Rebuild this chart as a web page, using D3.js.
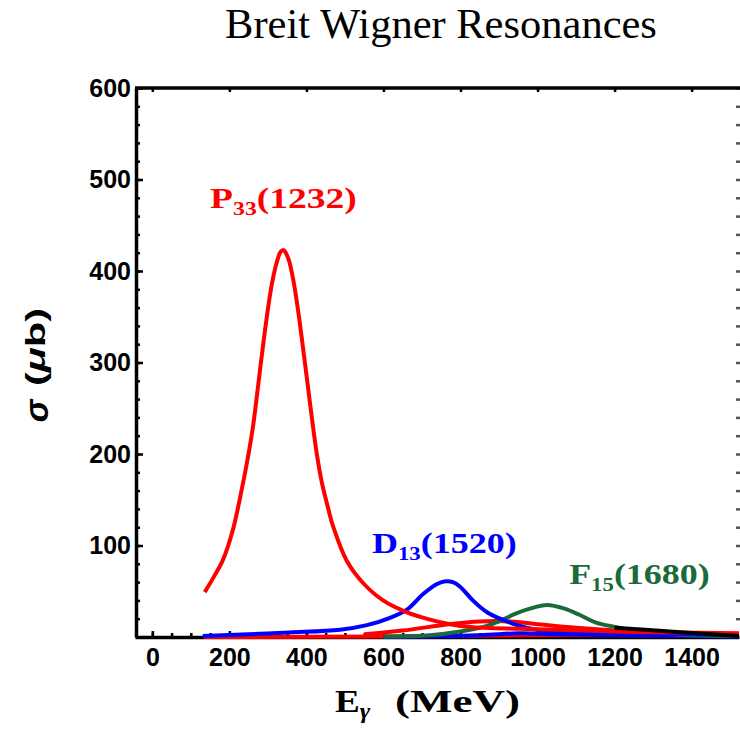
<!DOCTYPE html>
<html>
<head>
<meta charset="utf-8">
<title>Breit Wigner Resonances</title>
<script src="https://cdn.jsdelivr.net/npm/d3@7"></script>
<style>
  body { margin: 0; background: #fff; }
  svg { display: block; }
</style>
</head>
<body>
<svg width="740" height="741" id="mainSvg"></svg>
<script>
// photon energy (MeV) vs cross section (microbarn)
const p33Points = [[136,49],[160,66],[183,84],[209,117],[232,161],[248,196],[262,232],[279,290],[295,343],[310,385],[322,408],[333,421],[340,423],
  [345,421],[355,411],[366,390],[378,358],[390,320],[402,280],[414,240],[427,200],[440,169],[455,143],[470,120],[505,83],[547,59],[599,40],[661,27],[721,19],[773,14],[825,11],[950,9],[1058,8],[1200,6],[1350,5],[1523,4]];
const d13Points = [[131,1],[250,3],[357,5],[487,8],[557,13],[617,21],[661,30],[703,47],[739,58],[762,61],[780,60],[799,55],[832,40],[869,27],[903,20],[947,13],[999,8],[1100,6],[1250,4],[1400,3],[1523,2]];
const f15Points = [[600,0.5],[720,2],[800,6],[860,11],[900,17],[940,25],[980,31],[1025,35],[1070,31],[1110,24],[1150,16],[1200,11],[1266,6],[1370,2.5],[1523,1]];
const redExtraPoints = [[550,3],[650,7],[770,14],[850,17],[930,17],[1000,14],[1100,10],[1250,6],[1400,4],[1523,3]];
const redBasePoints = [[134,0],[600,0.5],[1000,2],[1300,2],[1523,1]];
const blueExtraPoints = [[600,0],[850,2],[950,4],[1050,3],[1200,2],[1523,0.5]];
const blackPoints = [[1200,10],[1280,8],[1380,5],[1523,1]];

const xTicks = [0, 200, 400, 600, 800, 1000, 1200, 1400];
const yTicks = [100, 200, 300, 400, 500, 600];

const labels = [
  { name: "P", sub: "33", mass: "(1232)", color: "#ff0000", E: 150, s: 469, sx: 1.25 },
  { name: "D", sub: "13", mass: "(1520)", color: "#0000ff", E: 570, s: 92, sx: 1.2 },
  { name: "F", sub: "15", mass: "(1680)", color: "#1b6b3a", E: 1082, s: 58, sx: 1.2 }
];

const svg = d3.select("#mainSvg");
const x = d3.scaleLinear().domain([-45, 1523]).range([135, 739]);
const y = d3.scaleLinear().domain([0, 600]).range([637, 88]);

svg.append("text")
  .attr("x", 441).attr("y", 38)
  .attr("text-anchor", "middle")
  .style("font-family", "'Liberation Serif', serif")
  .style("font-size", "42.5px")
  .text("Breit Wigner Resonances");

svg.append("defs").append("clipPath").attr("id", "plotClip")
  .append("rect").attr("x", 135).attr("y", 86).attr("width", 605).attr("height", 555);

// axes
const tickFont = "'Liberation Sans', Arial, sans-serif";
const xAxis = svg.append("g").attr("transform", "translate(0,637)")
  .call(d3.axisBottom(x).tickValues(xTicks).tickSize(-6).tickSizeOuter(0).tickPadding(11).tickFormat(d3.format("d")));
svg.append("g").attr("transform", "translate(0,637)")
  .call(d3.axisBottom(x).tickValues(d3.range(0, 1501, 50)).tickSize(-4).tickFormat(""))
  .call(g => g.select(".domain").remove());
const yAxis = svg.append("g").attr("transform", "translate(136,0)")
  .call(d3.axisLeft(y).tickValues(yTicks).tickSize(-7).tickSizeOuter(0).tickPadding(5));
svg.append("g").attr("transform", "translate(136,0)")
  .call(d3.axisLeft(y).tickValues(d3.range(0, 601, 20)).tickSize(-4).tickFormat(""))
  .call(g => g.select(".domain").remove());
svg.append("g").attr("transform", "translate(0,88)")
  .call(d3.axisTop(x).tickValues(xTicks).tickSize(-4).tickFormat(""))
  .call(g => g.select(".domain").remove());
svg.append("g").attr("transform", "translate(740,0)")
  .call(d3.axisRight(y).tickValues(d3.range(20, 601, 20)).tickSize(-4).tickFormat(""))
  .call(g => g.select(".domain").remove())
  .call(g => g.selectAll("line").attr("stroke", "#555").attr("stroke-width", 2.5));

[xAxis, yAxis].forEach(a => {
  a.select(".domain").attr("stroke", "#000").attr("stroke-width", 3.5);
  a.selectAll("text").style("font-family", tickFont).style("font-size", "25px")
    .style("font-weight", "bold").attr("fill", "#000");
});
svg.selectAll(".tick line").attr("stroke-width", function() { return d3.select(this).attr("stroke-width") || 2.5; });

svg.append("line").attr("x1", x.range()[0]).attr("x2", 740)
  .attr("y1", y(600)).attr("y2", y(600)).attr("stroke", "#000").attr("stroke-width", 3.5);

// curves
const line = d3.line().x(d => x(d[0])).y(d => y(d[1])).curve(d3.curveCatmullRom.alpha(0.5));
const curves = [
  { pts: redBasePoints, color: "#ff0000" },
  { pts: blueExtraPoints, color: "#0000ff" },
  { pts: redExtraPoints, color: "#ff0000" },
  { pts: f15Points, color: "#1b6b3a" },
  { pts: d13Points, color: "#0000ff" },
  { pts: p33Points, color: "#ff0000" },
  { pts: blackPoints, color: "#000000" }
];
const plot = svg.append("g").attr("clip-path", "url(#plotClip)");
plot.selectAll("path.curve").data(curves).join("path")
  .attr("class", "curve")
  .attr("d", d => line(d.pts))
  .attr("fill", "none")
  .attr("stroke", d => d.color)
  .attr("stroke-width", 4)
  .attr("stroke-linejoin", "round");

// resonance labels
labels.forEach(l => {
  const t = svg.append("text")
    .attr("transform", `translate(${x(l.E)},${y(l.s)}) scale(${l.sx},1)`)
    .attr("fill", l.color)
    .style("font-family", "'Liberation Serif', serif")
    .style("font-weight", "bold")
    .style("font-size", "30px");
  t.append("tspan").text(l.name);
  t.append("tspan").attr("dy", 7).style("font-size", "19px").text(l.sub);
  t.append("tspan").attr("dy", -7).text(l.mass);
});

// axis titles
svg.append("text").attr("x", 335).attr("y", 712)
  .style("font-family", "'Liberation Serif', serif").style("font-weight", "bold").style("font-size", "31px")
  .attr("transform", "translate(335,0) scale(1.2,1) translate(-335,0)")
  .call(t => {
    t.append("tspan").text("E");
    t.append("tspan").attr("dy", 6).style("font-size", "21px").style("font-style", "italic").text("γ");
  });
svg.append("text").attr("x", 395).attr("y", 712)
  .attr("textLength", 125).attr("lengthAdjust", "spacingAndGlyphs")
  .style("font-family", "'Liberation Serif', serif").style("font-weight", "bold").style("font-size", "31px")
  .text("(MeV)");

svg.append("text").attr("transform", "translate(48,411) rotate(-90)")
  .attr("text-anchor", "middle")
  .style("font-family", tickFont).style("font-weight", "bold").style("font-style", "italic").style("font-size", "34px")
  .text("σ");
svg.append("text").attr("transform", "translate(45,386) rotate(-90)")
  .attr("textLength", 78).attr("lengthAdjust", "spacingAndGlyphs")
  .style("font-family", tickFont).style("font-weight", "bold").style("font-size", "27px")
  .call(t => {
    t.append("tspan").text("(");
    t.append("tspan").style("font-style", "italic").text("μ");
    t.append("tspan").text("b)");
  });
</script>
</body>
</html>
